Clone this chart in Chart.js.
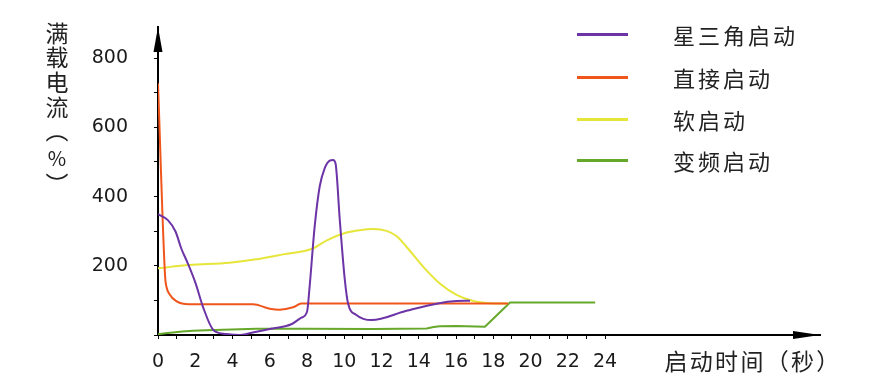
<!DOCTYPE html>
<html>
<head>
<meta charset="utf-8">
<script src="https://cdn.jsdelivr.net/npm/chart.js@4/dist/chart.umd.min.js"></script>
<style>
  body { margin: 0; background: #fff; }
  #wrap { position: relative; width: 879px; height: 392px; }
  #legend { position: absolute; left: 577px; top: 0; font-family: "Noto Sans CJK SC", sans-serif; font-size: 22px; color: #222; }
  .item { position: absolute; left: 0; height: 30px; width: 260px; }
  .item .ln { position: absolute; left: 0; top: 14px; width: 51px; height: 3px; }
  .item .tx { position: absolute; left: 96px; top: 0; line-height: 30px; white-space: nowrap; letter-spacing: 3px; }
</style>
</head>
<body>
<div id="wrap">
  <canvas id="myChart" width="879" height="392"></canvas>
  <div id="legend"></div>
</div>
<script>
// series names and colours
var seriesNames = ["星三角启动", "直接启动", "软启动", "变频启动"];
var seriesColors = ["#6c34a6", "#f0561c", "#e6e63a", "#66a82a"];

// star-delta start
var starT = [0, 0.53, 0.94, 1.25, 1.6, 2.02, 2.41, 2.98, 3.67, 4.38, 4.92, 6.17, 7.16, 7.7, 8.0, 8.14, 8.41, 8.68, 8.95, 9.22, 9.4, 9.53, 9.76, 10.03, 10.2, 10.65, 11.46, 13.34, 15.1, 16.03, 16.75];
var starI = [349, 332, 299, 250, 207, 149, 82, 14, 3, 0, 5, 19, 31, 50, 67, 140, 313, 429, 482, 504, 506, 496, 332, 159, 92, 58, 43, 70, 92, 98, 99];

// direct on line
var directT = [0, 0.38, 0.45, 0.62, 0.98, 1.66, 5.1, 6.0, 6.53, 7.25, 7.7, 18.8];
var directI = [727, 170, 140, 118, 98, 89, 89, 76, 73, 80, 91, 91];

// soft starter
var softT = [0, 1.69, 3.84, 5.28, 6.71, 8.32, 9.04, 10.12, 10.83, 11.55, 12.27, 12.8, 13.34, 14.24, 15.13, 16.03, 16.93, 17.82, 18.72];
var softI = [193, 202, 209, 219, 233, 250, 273, 296, 303, 306, 301, 286, 255, 197, 149, 116, 98, 92, 91];

// frequency converter
var vfdT = [0, 0.4, 0.8, 1.3, 1.87, 2.6, 3.49, 5.28, 7.97, 11.55, 14.42, 14.8, 15.13, 16.03, 17.55, 18.9, 23.47];
var vfdI = [2, 5, 7, 10, 12, 14, 15, 18, 18, 17, 19, 23, 25, 26, 24, 94, 94];

// axes
var xTickValues = [0, 1, 2, 3, 4, 5, 6, 7, 8, 9, 10, 11, 12, 13, 14, 15, 16, 17, 18, 19, 20, 21, 22, 23, 24];
var yTickValues = [0, 100, 200, 300, 400, 500, 600, 700, 800];
var yLabelValues = [200, 400, 600, 800];
var yTitle = ["满", "载", "电", "流"];
var xTitle = ["启", "动", "时", "间", "（", "秒", "）"];

function pts(t, v) {
    return t.map(function(x, i) { return { x: x, y: v[i] }; });
}

var allSeries = [[starT, starI], [directT, directI], [softT, softI], [vfdT, vfdI]];

var axisExtras = {
    id: 'axisExtras',
    afterDraw: function(chart) {
        var ctx = chart.ctx, a = chart.chartArea;
        ctx.save();
        ctx.fillStyle = '#000';
        // arrow heads
        ctx.beginPath();
        ctx.moveTo(a.left, a.top);
        ctx.lineTo(a.left - 4.5, a.top + 25);
        ctx.lineTo(a.left + 4.5, a.top + 25);
        ctx.closePath();
        ctx.fill();
        ctx.beginPath();
        ctx.moveTo(a.right, a.bottom);
        ctx.lineTo(a.right - 27, a.bottom - 4);
        ctx.lineTo(a.right - 27, a.bottom + 4);
        ctx.closePath();
        ctx.fill();
        // axis titles
        ctx.fillStyle = '#222';
        ctx.font = '23px "Noto Sans CJK SC"';
        ctx.textAlign = 'center';
        ctx.textBaseline = 'middle';
        yTitle.forEach(function(ch, i) {
            ctx.fillText(ch, 57, 33 + i * 24.7);
        });
        ctx.fillText("︵", 57, 130.5);
        ctx.fillText("︶", 57, 184);
        ctx.font = '20px "Noto Sans CJK SC"';
        ctx.fillText("%", 57, 158);
        ctx.font = '23px "Noto Sans CJK SC"';
        xTitle.forEach(function(ch, i) {
            ctx.fillText(ch, 676 + i * 25.3, 361);
        });
        ctx.restore();
    }
};

var ctx = document.getElementById("myChart").getContext("2d");
var chart = new Chart(ctx, {
    type: 'line',
    data: {
        datasets: allSeries.map(function(s, i) {
            return {
                label: seriesNames[i],
                data: pts(s[0], s[1]),
                borderColor: seriesColors[i],
                backgroundColor: seriesColors[i],
                borderWidth: 2,
                pointRadius: 0,
                fill: false,
                cubicInterpolationMode: i === 3 ? 'default' : 'monotone',
                tension: 0
            };
        })
    },
    options: {
        responsive: false,
        animation: false,
        layout: { padding: { top: 27, right: 59, left: 0, bottom: 0 } },
        plugins: {
            legend: { display: false },
            tooltip: { enabled: false }
        },
        scales: {
            x: {
                type: 'linear',
                min: 0,
                max: 35.54,
                afterFit: function(scale) {
                    scale.height = 57;
                    scale.paddingLeft = 0;
                    scale.paddingRight = 0;
                },
                afterBuildTicks: function(scale) {
                    scale.ticks = xTickValues.map(function(v) { return { value: v }; });
                },
                grid: { drawOnChartArea: false, drawTicks: true, tickLength: 4, tickColor: '#000', tickWidth: 1 },
                border: { display: true, color: '#000', width: 2 },
                ticks: {
                    autoSkip: false,
                    maxRotation: 0,
                    padding: 12,
                    color: '#1a1a1a',
                    font: { family: 'DejaVu Sans', size: 19 },
                    callback: function(v) { return v % 2 === 0 ? String(v) : ''; }
                }
            },
            y: {
                min: 0,
                max: 890,
                afterFit: function(scale) {
                    scale.width = 158;
                    scale.paddingTop = 0;
                    scale.paddingBottom = 0;
                },
                afterBuildTicks: function(scale) {
                    scale.ticks = yTickValues.map(function(v) { return { value: v }; });
                },
                grid: { drawOnChartArea: false, drawTicks: true, tickLength: 4, tickColor: '#000', tickWidth: 1 },
                border: { display: true, color: '#000', width: 2 },
                ticks: {
                    autoSkip: false,
                    padding: 26,
                    color: '#1a1a1a',
                    font: { family: 'DejaVu Sans', size: 19 },
                    callback: function(v) { return yLabelValues.indexOf(v) >= 0 ? String(v) : ''; }
                }
            }
        }
    },
    plugins: [axisExtras]
});

// legend built next to the canvas
var legend = document.getElementById("legend");
var legendTop = [19, 62, 104, 145];
seriesNames.forEach(function(name, i) {
    var item = document.createElement("div");
    item.className = "item";
    item.style.top = legendTop[i] + "px";
    item.innerHTML = '<div class="ln" style="background:' + seriesColors[i] + '"></div><div class="tx">' + name + '</div>';
    legend.appendChild(item);
});
</script>
</body>
</html>
